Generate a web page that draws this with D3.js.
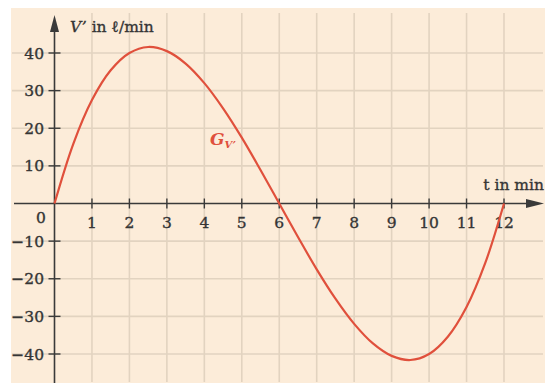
<!DOCTYPE html>
<html>
<head>
<meta charset="utf-8">
<script src="https://cdn.jsdelivr.net/npm/d3@7"></script>
<style>
  body { margin: 0; background: #fff; }
  text { font-family: "DejaVu Serif", "Liberation Serif", serif; fill: #353535; stroke: #353535; stroke-width: 0.35; }
</style>
</head>
<body>
<div id="container"></div>
<script>
const tValues = [0, 0.5, 1, 1.5, 2, 2.5, 3, 3.5, 4, 4.5, 5, 5.5, 6,
                 6.5, 7, 7.5, 8, 8.5, 9, 9.5, 10, 10.5, 11, 11.5, 12]
const vValues = [0, 15.8, 27.5, 35.4, 40, 41.6, 40.5, 37.2, 32, 25.3, 17.5, 8.9, 0,
                 -8.9, -17.5, -25.3, -32, -37.2, -40.5, -41.6, -40, -35.4, -27.5, -15.8, 0]
const xTicks = [1, 2, 3, 4, 5, 6, 7, 8, 9, 10, 11, 12]
const yTicks = [40, 30, 20, 10, -10, -20, -30, -40]

const w = 545, h = 383
const svg = d3.select("#container").append("svg").attr("width", w).attr("height", h)

const x = d3.scaleLinear().domain([0, 12]).range([54.5, 504])
const y = d3.scaleLinear().domain([40, -40]).range([53, 354])

// beige paper
svg.append("rect").attr("x", 11).attr("y", 8).attr("width", w - 11).attr("height", h - 8).attr("fill", "#fcecd9")

// grid
const grid = svg.append("g").attr("stroke", "#e2d3c0").attr("stroke-width", 1.6)
grid.selectAll(".gx").data(xTicks).enter().append("line")
    .attr("x1", d => x(d)).attr("x2", d => x(d)).attr("y1", 13).attr("y2", 382)
grid.selectAll(".gy").data(yTicks).enter().append("line")
    .attr("x1", 12).attr("x2", 543).attr("y1", d => y(d)).attr("y2", d => y(d))

// axes
const axisColor = "#3a3a3a"
svg.append("line").attr("x1", 14).attr("x2", 530).attr("y1", y(0)).attr("y2", y(0))
    .attr("stroke", axisColor).attr("stroke-width", 1.6)
svg.append("path").attr("d", `M${544},${y(0)} L${526},${y(0) - 4.5} L${526},${y(0) + 4.5} Z`).attr("fill", axisColor)
svg.append("line").attr("x1", x(0)).attr("x2", x(0)).attr("y1", 28).attr("y2", 383)
    .attr("stroke", axisColor).attr("stroke-width", 1.6)
svg.append("path").attr("d", `M${x(0)},15 L${x(0) - 4.5},32 L${x(0) + 4.5},32 Z`).attr("fill", axisColor)

// ticks
svg.selectAll(".tx").data(xTicks).enter().append("line")
    .attr("x1", d => x(d)).attr("x2", d => x(d)).attr("y1", y(0) - 5).attr("y2", y(0) + 5)
    .attr("stroke", axisColor).attr("stroke-width", 1.4)
svg.selectAll(".ty").data(yTicks).enter().append("line")
    .attr("x1", x(0) - 6).attr("x2", x(0) + 6).attr("y1", d => y(d)).attr("y2", d => y(d))
    .attr("stroke", axisColor).attr("stroke-width", 1.4)

// tick labels
svg.selectAll(".lx").data(xTicks).enter().append("text")
    .attr("x", d => x(d)).attr("y", 228).attr("text-anchor", "middle").attr("font-size", 15.5)
    .text(d => d)
svg.selectAll(".ly").data(yTicks).enter().append("text")
    .attr("x", 44).attr("y", d => y(d) + 5.5).attr("text-anchor", "end").attr("font-size", 15.5)
    .text(d => d < 0 ? "\u2212" + Math.abs(d) : d)
svg.append("text").attr("x", 41).attr("y", 223).attr("text-anchor", "middle").attr("font-size", 15.5).text("0")

// axis titles
const yt = svg.append("text").attr("x", 70).attr("y", 32).attr("font-size", 15.5)
yt.append("tspan").attr("font-style", "italic").text("V\u2019")
yt.append("tspan").text(" in \u2113/min")
svg.append("text").attr("x", 544).attr("y", 190).attr("text-anchor", "end").attr("font-size", 15.5).text("t in min")

// curve
const line = d3.line().x((d, i) => x(tValues[i])).y(d => y(d)).curve(d3.curveCatmullRom)
svg.append("path").datum(vValues).attr("d", line)
    .attr("fill", "none").attr("stroke", "#e0503c").attr("stroke-width", 2.2)

const g = svg.append("text").attr("x", 210).attr("y", 145).attr("font-size", 17)
    .attr("font-style", "italic").attr("font-weight", "bold").style("fill", "#e0503c").style("stroke", "none")
g.append("tspan").text("G")
g.append("tspan").attr("font-size", 10).attr("dy", 3).text("V\u2019")
</script>
</body>
</html>
